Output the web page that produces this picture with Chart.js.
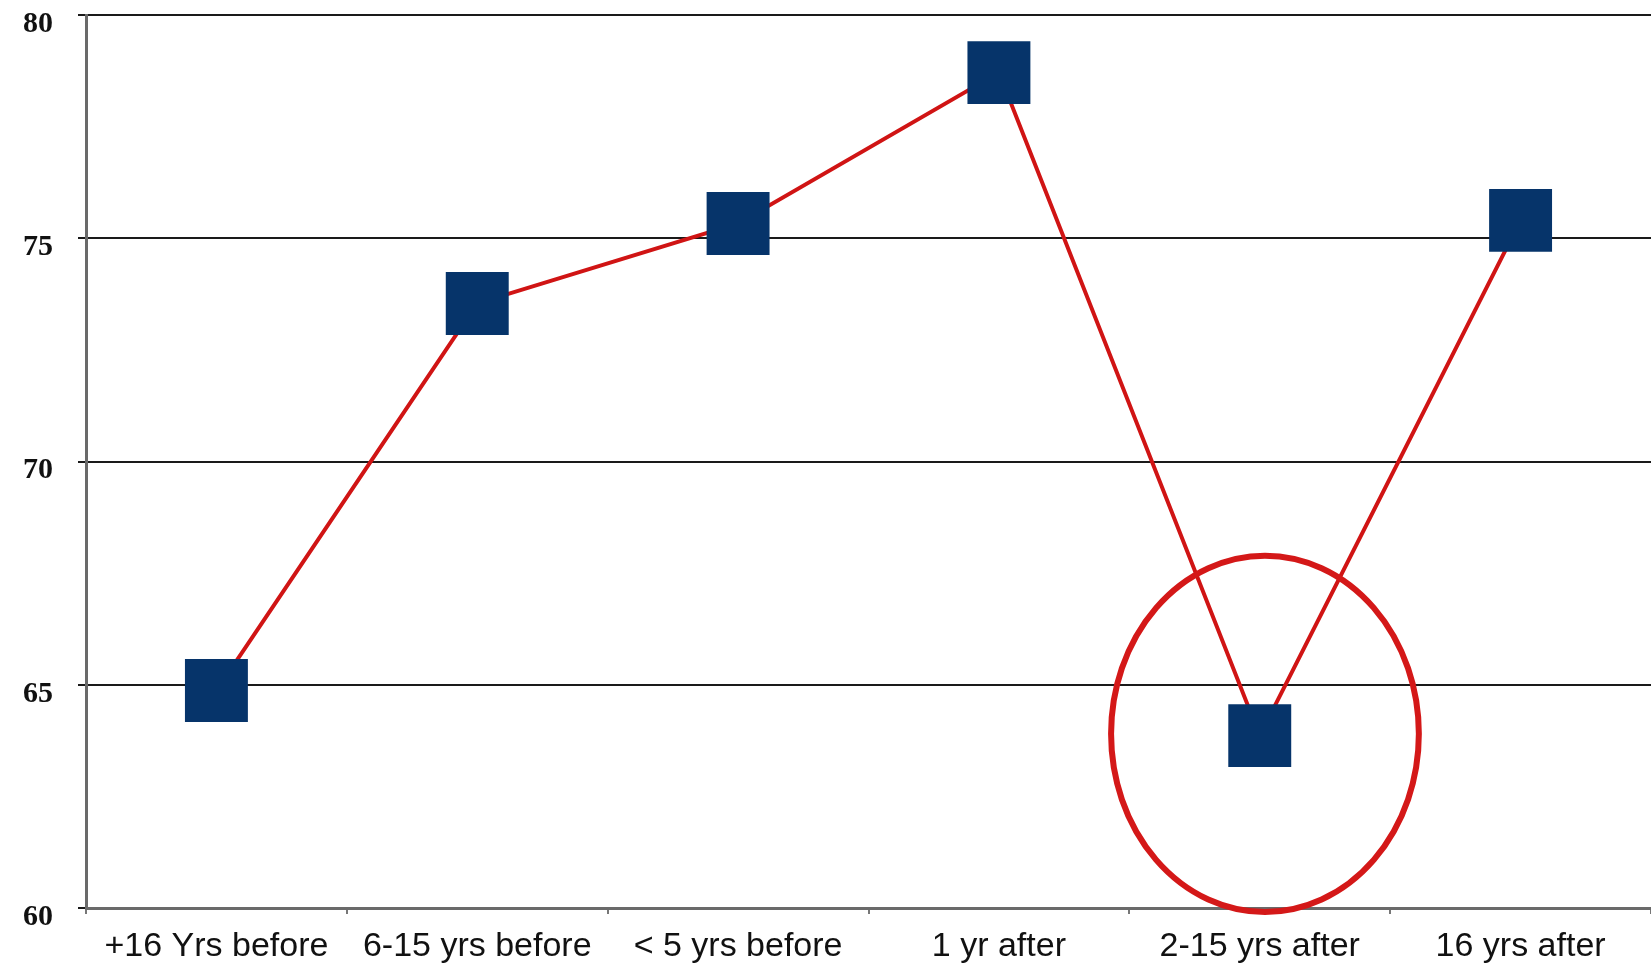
<!DOCTYPE html>
<html>
<head>
<meta charset="utf-8">
<script src="https://cdn.jsdelivr.net/npm/chart.js@4"></script>
<style>
  html, body { margin: 0; padding: 0; background: #fff; overflow: hidden; }
  #wrap { width: 1651px; height: 971px; }
</style>
</head>
<body>
<div id="wrap"><canvas id="chart"></canvas></div>
<script>
// values
const categories = ['+16 Yrs before', '6-15 yrs before', '< 5 yrs before', '1 yr after', '2-15 yrs after', '16 yrs after'];
const values = [64.87, 73.54, 75.33, 78.71, 63.86, 75.40];
const yTicks = [60, 65, 70, 75, 80];

// highlight ring around the 2-15 yrs point (category index, value centre, half sizes)
const ringCategory = 4.02;
const ringValue = 63.9;
const ringHalfWidth = 0.59;  // in categories
const ringHalfHeight = 3.99; // in value units

const ringPlugin = {
  id: 'ring',
  afterDatasetsDraw(chart) {
    const { ctx, scales: { x, y } } = chart;
    const step = x.getPixelForValue(1) - x.getPixelForValue(0);
    const cx = x.getPixelForValue(4) + (ringCategory - 4) * step;
    const cy = y.getPixelForValue(ringValue);
    const rx = ringHalfWidth * step;
    const ry = Math.abs(y.getPixelForValue(ringValue + ringHalfHeight) - cy);
    ctx.save();
    ctx.beginPath();
    ctx.ellipse(cx, cy, rx, ry, 0, 0, Math.PI * 2);
    ctx.strokeStyle = '#d41818';
    ctx.lineWidth = 6;
    ctx.stroke();
    ctx.restore();
  }
};

new Chart(document.getElementById('chart'), {
  type: 'line',
  data: {
    labels: categories,
    datasets: [{
      data: values,
      borderColor: '#d01414',
      borderWidth: 4,
      tension: 0,
      pointStyle: 'rect',
      pointRadius: 44.5,
      pointHoverRadius: 44.5,
      pointBackgroundColor: '#06346a',
      pointBorderWidth: 0,
      clip: false
    }]
  },
  options: {
    responsive: true,
    maintainAspectRatio: false,
    animation: false,
    events: [],
    layout: { autoPadding: false, padding: { top: 15, right: 0, bottom: 0, left: 0 } },
    plugins: {
      legend: { display: false },
      tooltip: { enabled: false }
    },
    scales: {
      x: {
        type: 'category',
        offset: true,
        afterFit: (s) => { s.height = 63; s.paddingLeft = 0; s.paddingRight = 0; },
        grid: {
          offset: true,
          drawOnChartArea: false,
          drawTicks: true,
          tickLength: 6,
          color: '#777',
          lineWidth: 2
        },
        border: { display: true, color: '#6a6a6a', width: 3 },
        ticks: {
          padding: 16,
          maxRotation: 0,
          autoSkip: false,
          color: '#111',
          font: { family: 'Liberation Sans', size: 34, lineHeight: 1 }
        }
      },
      y: {
        min: 60,
        max: 80,
        afterFit: (s) => { s.width = 86; s.paddingTop = 0; s.paddingBottom = 0; },
        afterBuildTicks: (s) => { s.ticks = yTicks.map(v => ({ value: v })); },
        grid: {
          color: '#1a1a1a',
          lineWidth: 2,
          drawTicks: true,
          tickLength: 8
        },
        border: { display: true, color: '#6a6a6a', width: 3 },
        ticks: {
          padding: 25,
          labelOffset: 9,
          color: '#111',
          font: { family: 'Liberation Serif', size: 30, weight: 'bold' }
        }
      }
    }
  },
  plugins: [ringPlugin]
});
</script>
</body>
</html>
